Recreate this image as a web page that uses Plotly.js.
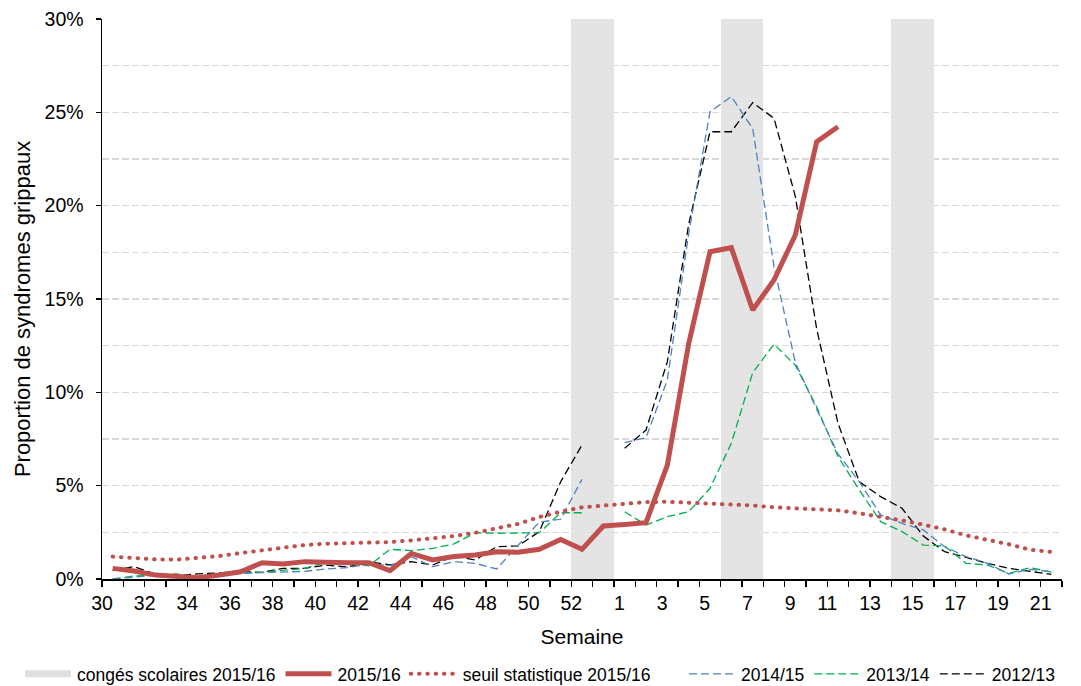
<!DOCTYPE html>
<html>
<head>
<meta charset="utf-8">
<script src="https://cdn.plot.ly/plotly-3.0.1.min.js"></script>
<style>
html,body{margin:0;padding:0;background:#fff;}
#chart{width:1081px;height:686px;}
</style>
</head>
<body>
<div id="chart"></div>
<script>
// Week labels (2015 has 53 ISO weeks)
const weeks = [30,31,32,33,34,35,36,37,38,39,40,41,42,43,44,45,46,47,48,49,50,51,52,53,
               1,2,3,4,5,6,7,8,9,10,11,12,13,14,15,16,17,18,19,20,21];
// School holidays 2015/16 (weeks)
const holidayWeeks = [52,53,6,7,14,15];
const holidayHeight = 30;
// Y tick values (%)
const yTicks = [0,5,10,15,20,25,30];

// Values in %
const s2015_16 = [0.57,0.43,0.21,0.12,0.07,0.21,0.39,0.87,0.80,0.93,0.87,0.87,0.87,0.45,1.37,1.02,1.20,1.29,1.46,1.43,1.59,2.12,1.59,2.84,
                  2.92,3.02,6.10,12.60,17.53,17.75,14.41,16.02,18.43,23.43,24.23,null,null,null,null,null,null,null,null,null,null];
const seuil2015_16 = [1.20,1.13,1.05,1.04,1.12,1.23,1.39,1.52,1.66,1.82,1.89,1.91,1.96,1.98,2.07,2.16,2.30,2.48,2.71,2.95,3.32,3.61,3.84,3.93,
                  4.02,4.12,4.14,4.09,4.06,4.00,3.94,3.84,3.77,3.73,3.68,3.52,3.34,3.14,2.91,2.66,2.34,2.11,1.86,1.57,1.45];
const s2014_15 = [0.00,0.09,0.20,0.16,0.09,0.16,0.30,0.34,0.39,0.41,0.54,0.61,0.80,0.72,1.20,0.66,0.93,0.84,0.54,1.80,3.05,3.20,5.34,null,
                  7.30,7.57,10.66,18.50,25.03,25.84,24.14,16.73,11.60,9.10,6.70,5.21,3.43,2.98,2.63,1.73,1.20,0.84,0.27,0.52,0.39];
const s2013_14 = [0.00,0.16,0.21,0.27,0.09,0.21,0.34,0.36,0.45,0.57,0.89,0.84,0.70,1.59,1.52,1.64,1.88,2.48,2.45,2.45,2.48,3.55,3.55,null,
                  3.60,2.89,3.34,3.60,4.86,7.27,11.05,12.58,11.45,9.23,6.55,4.77,3.07,2.54,1.82,1.77,0.84,0.75,0.30,0.61,0.37];
const s2012_13 = [0.45,0.66,0.27,0.18,0.27,0.34,0.39,0.36,0.57,0.57,0.75,0.64,0.93,0.75,0.93,0.75,1.23,1.02,1.73,1.77,2.54,5.21,7.18,null,
                  7.00,7.98,11.64,19.00,23.96,23.96,25.52,24.68,20.50,13.40,8.34,5.21,4.41,3.79,2.30,1.46,1.16,0.84,0.57,0.39,0.25];

const xIdx = weeks.map((w,i)=>i);
const holX = holidayWeeks.map(w=>weeks.indexOf(w));
const holY = holidayWeeks.map(()=>holidayHeight);

// tick boundaries: label every other week
const tickvals = [], ticktext = [];
for (let i=0;i<=weeks.length;i++){
  tickvals.push(i-0.5);
  let t = '';
  if (i<weeks.length && i%2===0) t = (weeks[i] < 10 ? '\u2007' : '') + String(weeks[i]);
  ticktext.push(t);
}

const FONT = 'Liberation Sans, Arial, sans-serif';
const dash = '8px,4px';

const traces = [
  {type:'bar', x:holX, y:holY, width:1, showlegend:false, hoverinfo:'skip',
   marker:{color:'#e2e2e2', line:{width:0},
           pattern:{shape:'+', fgcolor:'#d6d6d6', bgcolor:'#e6e6e6', size:4, solidity:0.15}}},
  {type:'scatter', mode:'lines', x:[null], y:[null], name:'congés scolaires 2015/16', legendrank:1, legend:'legend',
   line:{color:'#e0e0e0', width:7}},
  {type:'scatter', mode:'lines', x:xIdx, y:s2012_13, name:'2012/13', legendrank:6, legend:'legend2',
   line:{color:'#000000', width:1.3, dash:dash}, connectgaps:false},
  {type:'scatter', mode:'lines', x:xIdx, y:s2013_14, name:'2013/14', legendrank:5, legend:'legend2',
   line:{color:'#00b050', width:1.3, dash:dash}, connectgaps:false},
  {type:'scatter', mode:'lines', x:xIdx, y:s2014_15, name:'2014/15', legendrank:4, legend:'legend2',
   line:{color:'#4f81bd', width:1.3, dash:dash}, connectgaps:false},
  {type:'scatter', mode:'lines', x:xIdx, y:seuil2015_16, name:'seuil statistique 2015/16', legendrank:3, legend:'legend',
   line:{color:'#c0504d', width:4, dash:'0.5px,7.8px'}},
  {type:'scatter', mode:'lines', x:xIdx, y:s2015_16, name:'2015/16', legendrank:2, legend:'legend',
   line:{color:'#c0504d', width:5}, connectgaps:false}
];

const gridc = '#d9d9d9';
const legBase = {orientation:'h', xref:'container', yref:'container', xanchor:'left', y:0.0175, yanchor:'middle',
                 font:{size:17.5, family:FONT}, traceorder:'normal', itemwidth:47, tracegroupgap:0,
                 bgcolor:'rgba(0,0,0,0)'};
const layout = {
  width:1081, height:686,
  margin:{l:102, r:19, t:19, b:107},
  paper_bgcolor:'#fff', plot_bgcolor:'#fff',
  font:{family:FONT, color:'#000', size:19.5},
  barmode:'overlay', bargap:0,
  showlegend:true,
  legend:Object.assign({}, legBase, {x:20/1081}),
  legend2:Object.assign({}, legBase, {x:684/1081}),
  xaxis:{range:[-0.5, weeks.length-0.5], tickmode:'array', tickvals:tickvals, ticktext:ticktext,
         ticks:'outside', ticklen:6, tickwidth:1.3, tickcolor:'#000',
         showline:true, linecolor:'#000', linewidth:2, showgrid:false, zeroline:false,
         tickfont:{size:19.5}, fixedrange:true,
         title:{text:'Semaine', font:{size:21}, standoff:16}},
  yaxis:{range:[0,30], tickmode:'array', tickvals:yTicks, ticktext:yTicks.map(v=>v+'%'),
         ticks:'outside', ticklen:5, tickwidth:1.3, tickcolor:'#000', ticklabelstandoff:8,
         showline:true, linecolor:'#000', linewidth:1.5, zeroline:false,
         showgrid:true, gridcolor:gridc, gridwidth:1.3, griddash:'7px,3px',
         minor:{tickmode:'array', tickvals:[2.5,7.5,12.5,17.5,22.5,27.5], showgrid:true, gridcolor:gridc, gridwidth:1.3, griddash:'7px,3px', ticks:''},
         tickfont:{size:19.5}},
  annotations:[{text:'Proportion de syndromes grippaux', xref:'paper', yref:'paper',
                x:-0.0833, y:0.482, xanchor:'center', yanchor:'middle', textangle:-90,
                showarrow:false, font:{size:22, family:FONT, color:'#000'}}]
};

Plotly.newPlot('chart', traces, layout, {staticPlot:true, displayModeBar:false}).then(()=>{
  document.querySelectorAll('path.js-line').forEach(p=>{
    const d = p.style.strokeDasharray || '';
    if (d.indexOf('0.5px')===0) p.style.strokeLinecap='round';
  });
  document.querySelectorAll('g.legendlines path').forEach(p=>{
    p.setAttribute('d','M5,0h46');
  });
});
</script>
</body>
</html>
